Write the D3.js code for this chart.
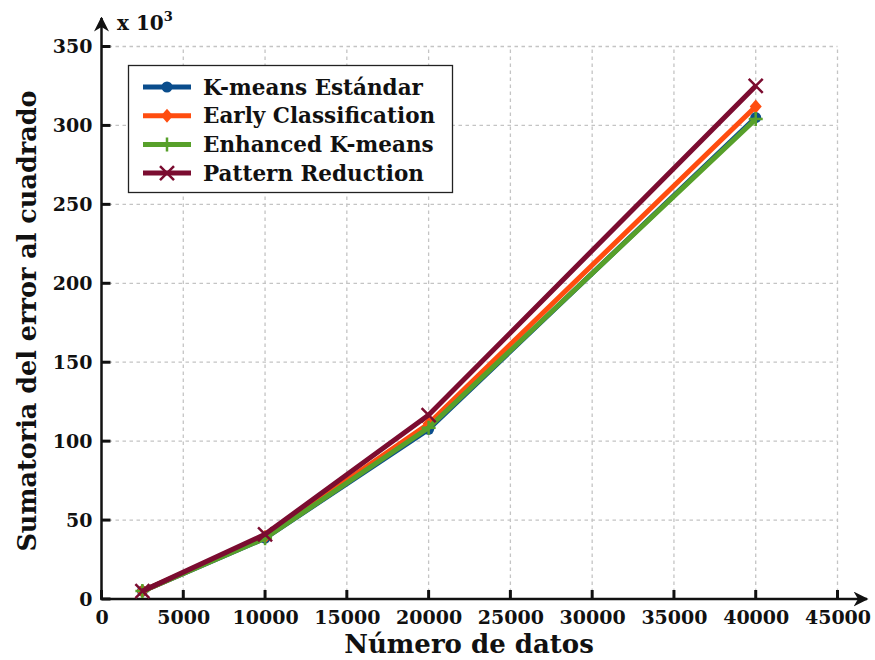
<!DOCTYPE html>
<html>
<head>
<meta charset="utf-8">
<script src="https://cdn.jsdelivr.net/npm/d3@7"></script>
<style>
  body { margin: 0; background: #fff; }
  svg text { font-family: "DejaVu Serif", serif; font-weight: bold; fill: #111; }
</style>
</head>
<body>
<svg id="chart" width="875" height="660"></svg>
<script>
  // data (y in thousands)
  const xValues = [2500, 10000, 20000, 40000];
  const kmeansStd = [5, 38.5, 107.5, 305];
  const earlyClass = [5, 39.5, 111, 312];
  const enhanced = [5, 38.5, 108.5, 304];
  const patternRed = [5, 41, 116.5, 325];
  const seriesNames = ['K-means Estándar', 'Early Classification', 'Enhanced K-means', 'Pattern Reduction'];
  const xTicks = [0, 5000, 10000, 15000, 20000, 25000, 30000, 35000, 40000, 45000];
  const yTicks = [0, 50, 100, 150, 200, 250, 300, 350];

  const colors  = ['#0a4d8c', '#ff4d0f', '#57a02a', '#7b0c30'];
  const markers = ['circle', 'diamond', 'plus', 'cross'];
  const seriesValues = [kmeansStd, earlyClass, enhanced, patternRed];

  const svg = d3.select('#chart');

  const x = d3.scaleLinear().domain([0, 45000]).range([101.5, 837.5]);
  const y = d3.scaleLinear().domain([0, 350]).range([599, 46.5]);

  // grid
  const grid = svg.append('g').attr('stroke', '#c4c4c4').attr('stroke-width', 1.3).attr('stroke-dasharray', '3.5,3.5');
  grid.selectAll('.gx').data(xTicks.slice(1)).enter().append('line')
    .attr('x1', d => x(d)).attr('x2', d => x(d))
    .attr('y1', y(0)).attr('y2', y(350));
  grid.selectAll('.gy').data(yTicks.slice(1)).enter().append('line')
    .attr('x1', x(0)).attr('x2', x(45000))
    .attr('y1', d => y(d)).attr('y2', d => y(d));

  // axes
  const xAxis = d3.axisBottom(x).tickValues(xTicks).tickSize(0).tickPadding(12).tickFormat(d3.format('d'));
  const gx = svg.append('g').attr('transform', `translate(0,${y(0)})`).call(xAxis);
  gx.select('.domain').remove();
  gx.selectAll('text').style('font-size', '19px').attr('fill', '#111');

  const yAxis = d3.axisLeft(y).tickValues(yTicks).tickSize(0).tickPadding(9);
  const gy = svg.append('g').attr('transform', `translate(${x(0)},0)`).call(yAxis);
  gy.select('.domain').remove();
  gy.selectAll('text').style('font-size', '19px').attr('fill', '#111');

  // inward ticks
  svg.append('g').selectAll('line').data(xTicks).enter().append('line')
    .attr('x1', d => x(d)).attr('x2', d => x(d))
    .attr('y1', y(0)).attr('y2', y(0) - 9)
    .attr('stroke', '#111').attr('stroke-width', 3);
  svg.append('g').selectAll('line').data(yTicks).enter().append('line')
    .attr('y1', d => y(d)).attr('y2', d => y(d))
    .attr('x1', x(0)).attr('x2', x(0) + 9)
    .attr('stroke', '#111').attr('stroke-width', 3);

  // axis lines with arrows
  const defs = svg.append('defs');
  defs.append('marker').attr('id', 'arrow')
    .attr('viewBox', '0 0 10 10').attr('refX', 9).attr('refY', 5)
    .attr('markerWidth', 6).attr('markerHeight', 6).attr('orient', 'auto')
    .append('path').attr('d', 'M0,0 L10,5 L0,10 L3,5 Z').attr('fill', '#111');
  svg.append('line').attr('x1', x(0) - 1).attr('x2', 867).attr('y1', y(0)).attr('y2', y(0))
    .attr('stroke', '#111').attr('stroke-width', 2.5).attr('marker-end', 'url(#arrow)');
  svg.append('line').attr('x1', x(0)).attr('x2', x(0)).attr('y1', y(0) + 1).attr('y2', 18)
    .attr('stroke', '#111').attr('stroke-width', 2.5).attr('marker-end', 'url(#arrow)');

  // multiplier
  const mult = svg.append('text').attr('x', 117).attr('y', 30).style('font-size', '20px');
  mult.append('tspan').text('x 10');
  mult.append('tspan').attr('dy', -9).style('font-size', '13px').text('3');

  // axis titles
  svg.append('text').attr('x', 469).attr('y', 653).attr('text-anchor', 'middle')
    .style('font-size', '26px').text('Número de datos');
  svg.append('text').attr('transform', `translate(36,${y(0) - 278}) rotate(-90)`)
    .attr('text-anchor', 'middle').style('font-size', '25.5px').text('Sumatoria del error al cuadrado');

  // symbols
  function drawMarker(g, type, cx, cy, color) {
    if (type === 'circle') {
      g.append('circle').attr('cx', cx).attr('cy', cy).attr('r', 5.5).attr('fill', color);
    } else if (type === 'diamond') {
      g.append('path').attr('d', `M${cx},${cy - 7}L${cx + 6},${cy}L${cx},${cy + 7}L${cx - 6},${cy}Z`).attr('fill', color);
    } else if (type === 'plus') {
      g.append('path').attr('d', `M${cx - 7},${cy}H${cx + 7}M${cx},${cy - 7}V${cy + 7}`)
        .attr('stroke', color).attr('stroke-width', 2.5);
    } else {
      g.append('path').attr('d', `M${cx - 7},${cy - 7}L${cx + 7},${cy + 7}M${cx - 7},${cy + 7}L${cx + 7},${cy - 7}`)
        .attr('stroke', color).attr('stroke-width', 2.5);
    }
  }

  const line = d3.line().x(d => x(d[0])).y(d => y(d[1]));
  seriesValues.forEach((vals, i) => {
    const pts = xValues.map((xv, j) => [xv, vals[j]]);
    const g = svg.append('g');
    g.append('path').datum(pts).attr('d', line)
      .attr('fill', 'none').attr('stroke', colors[i]).attr('stroke-width', 5)
      .attr('stroke-linejoin', 'round');
    pts.forEach(p => drawMarker(g, markers[i], x(p[0]), y(p[1]), colors[i]));
  });

  // legend
  const lg = svg.append('g');
  lg.append('rect').attr('x', 128.5).attr('y', 65.5).attr('width', 324).attr('height', 127)
    .attr('fill', '#fff').attr('stroke', '#222').attr('stroke-width', 1.3);
  seriesNames.forEach((name, i) => {
    const ly = 87 + i * 28.7;
    lg.append('line').attr('x1', 143).attr('x2', 191).attr('y1', ly).attr('y2', ly)
      .attr('stroke', colors[i]).attr('stroke-width', 5);
    drawMarker(lg, markers[i], 167, ly, colors[i]);
    lg.append('text').attr('x', 203).attr('y', ly + 7.5).style('font-size', '21.5px').text(name);
  });
</script>
</body>
</html>
